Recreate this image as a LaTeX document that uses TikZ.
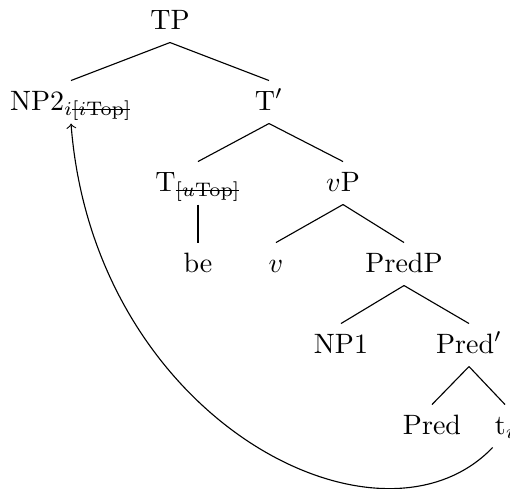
\documentclass[tikz,border=0pt]{standalone}
\usepackage{amsmath}
\newcommand\mystrike[1]{\setbox0\hbox{#1}\rlap{\rule[0.6ex]{\wd0}{0.4pt}}\box0}
\begin{document}
\begin{tikzpicture}[x=0.35714pt,y=-0.35714pt,
  lab/.style={anchor=base,inner sep=3.33pt,text height=7pt,text depth=1.3pt},
  edge/.style={line width=0.4pt}]
\useasboundingbox (0,0) rectangle (510,488);
% level 0
\node[lab] (TP) at (170,29) {TP};
% level 1
\node[lab] (NP2) at (71,110) {NP2$_{i\text{\mystrike{[$i$Top]}}}$};
\node[lab] (Tbar) at (269,110) {T$'$};
% level 2
\node[lab] (T) at (198,191) {T$_{\text{\mystrike{[$u$Top]}}}$};
\node[lab] (vP) at (343,191) {$v$P};
% level 3
\node[lab] (be) at (198,272) {be};
\node[lab] (v) at (276,272) {$v$};
\node[lab] (PredP) at (404,272) {PredP};
% level 4
\node[lab] (NP1) at (341,353) {NP1};
\node[lab] (Predbar) at (469,353) {Pred$'$};
% level 5
\node[lab] (Pred) at (432,434) {Pred};
\node[lab] (t) at (505,434) {t$_i$};
% edges
\draw[edge] (TP.south) -- (NP2.north);
\draw[edge] (TP.south) -- (Tbar.north);
\draw[edge] (Tbar.south) -- (T.north);
\draw[edge] (Tbar.south) -- (vP.north);
\draw[edge] (T.south) -- (be.north);
\draw[edge] (vP.south) -- (v.north);
\draw[edge] (vP.south) -- (PredP.north);
\draw[edge] (PredP.south) -- (NP1.north);
\draw[edge] (PredP.south) -- (Predbar.north);
\draw[edge] (Predbar.south) -- (Pred.north);
\draw[edge] (Predbar.south) -- (t.north);
% movement arrow
\draw[edge,->] (t.240) .. controls +(-113,118) and +(23,297) .. (NP2.south);
\end{tikzpicture}
\end{document}
